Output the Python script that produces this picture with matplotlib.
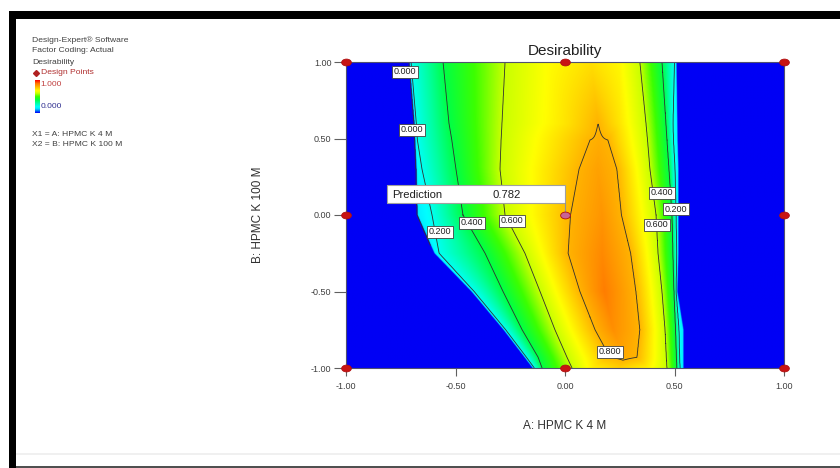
import numpy as np
import matplotlib
matplotlib.use("Agg")
import matplotlib.pyplot as plt
from matplotlib.colors import LinearSegmentedColormap
from matplotlib.path import Path
from matplotlib.transforms import Affine2D
from matplotlib.patches import Rectangle
from matplotlib.lines import Line2D

plt.rcParams["font.family"] = ["Liberation Sans", "DejaVu Sans"]

# ---- data -------------------------------------------------------------
# Desirability surface, described row by row: for each level of factor B,
# the A positions of the knots, in this order:
# left edge, L0.2, L0.4, L0.6, A, peak, B, R0.6, R0.4, R0.2, right edge
row_b = [1.0, 0.6, 0.49, 0.3, 0.0, -0.25, -0.5, -0.75, -0.93, -1.0]
knot_a = [
    [-0.708, -0.703, -0.557, -0.274, -0.080, 0.120, 0.250, 0.342, 0.443, 0.500, 0.507],
    [-0.685, -0.679, -0.530, -0.288, 0.000, 0.151, 0.250, 0.370, 0.461, 0.493, 0.511],
    [-0.682, -0.674, -0.517, -0.292, 0.114, 0.155, 0.196, 0.377, 0.466, 0.495, 0.512],
    [-0.676, -0.653, -0.498, -0.297, 0.064, 0.150, 0.237, 0.388, 0.475, 0.502, 0.516],
    [-0.671, -0.607, -0.466, -0.274, 0.025, 0.170, 0.258, 0.416, 0.489, 0.507, 0.516],
    [-0.594, -0.575, -0.365, -0.183, 0.014, 0.170, 0.300, 0.425, 0.493, 0.510, 0.516],
    [-0.425, -0.415, -0.283, -0.114, 0.068, 0.180, 0.324, 0.443, 0.498, 0.507, 0.511],
    [-0.279, -0.271, -0.196, -0.046, 0.137, 0.220, 0.342, 0.457, 0.505, 0.520, 0.539],
    [-0.183, -0.176, -0.123, 0.009, 0.205, 0.270, 0.329, 0.463, 0.509, 0.523, 0.539],
    [-0.146, -0.140, -0.105, 0.032, 0.120, 0.250, 0.380, 0.466, 0.511, 0.525, 0.539],
]
edge_left_d = [0.19, 0.19, 0.19, 0.17, 0.15, 0.16, 0.17, 0.17, 0.17, 0.17]
knot_a_d = [0.68, 0.72, 0.80, 0.80, 0.80, 0.80, 0.80, 0.80, 0.80, 0.70]
peak_d = [0.73, 0.80, 0.81, 0.83, 0.85, 0.87, 0.89, 0.86, 0.815, 0.76]
knot_b_d = [0.69, 0.72, 0.80, 0.80, 0.80, 0.80, 0.80, 0.80, 0.80, 0.70]
edge_right_d = [0.17, 0.17, 0.17, 0.17, 0.17, 0.17, 0.17, 0.15, 0.15, 0.15]

contour_levels = [0.2, 0.4, 0.6, 0.8]
edge_level = 0.0003
design_a = [-1, 0, 1, -1, 0, 1, -1, 0, 1]
design_b = [-1, -1, -1, 0, 0, 0, 1, 1, 1]
prediction_value = 0.782
ticks = [-1.0, -0.5, 0.0, 0.5, 1.0]
tick_labels = ["-1.00", "-0.50", "0.00", "0.50", "1.00"]

# ---- build the surface on a fine grid ----------------------------------
knot_d = [[el, 0.2, 0.4, 0.6, ka, pk, kb, 0.6, 0.4, 0.2, er]
          for el, ka, pk, kb, er in zip(edge_left_d, knot_a_d, peak_d,
                                        knot_b_d, edge_right_d)]
rb = np.array(row_b)[::-1]
KA = np.array(knot_a)[::-1]
KD = np.array(knot_d)[::-1]
xa = np.linspace(-1, 1, 1001)
yb = np.linspace(-1, 1, 601)
D = np.empty((yb.size, xa.size))
for i, b in enumerate(yb):
    xk = np.array([np.interp(b, rb, KA[:, k]) for k in range(KA.shape[1])])
    vk = np.array([np.interp(b, rb, KD[:, k]) for k in range(KD.shape[1])])
    xs = np.concatenate([[-1.0, xk[0] - 0.004], xk, [xk[-1] + 0.004, 1.0]])
    vs = np.concatenate([[0.0, 0.0], vk, [0.0, 0.0]])
    D[i] = np.interp(xa, xs, vs)

cmap = LinearSegmentedColormap.from_list("desirability", [
    (0.00, "#0000f5"), (0.12, "#00e0ff"), (0.18, "#00ffff"), (0.30, "#00ffa0"),
    (0.40, "#00ff46"), (0.50, "#3cff00"), (0.60, "#c8ff00"), (0.68, "#ffff00"),
    (0.80, "#ffb400"), (0.90, "#ff7800"), (1.00, "#ff0000")])

# ---- figure -------------------------------------------------------------
W, H = 840, 468
fig = plt.figure(figsize=(W / 100, H / 100), dpi=100)
fig.patch.set_facecolor("white")


def fx(px):
    return px / W


def fy(py):
    return 1 - py / H


ax = fig.add_axes([fx(346), fy(368), fx(784) - fx(346), fy(62) - fy(368)])
ax.imshow(D, extent=[-1, 1, -1, 1], origin="lower", cmap=cmap, vmin=0, vmax=1,
          aspect="auto", interpolation="bilinear", zorder=1)
X, Y = np.meshgrid(xa, yb)
ax.contour(X, Y, D, levels=contour_levels, colors="#303030", linewidths=0.6,
           zorder=2)
# zero-desirability boundary, upper left part
sel_x = xa < 0
sel_y = yb > -0.2
ax.contour(xa[sel_x], yb[sel_y], D[np.ix_(sel_y, sel_x)], levels=[edge_level],
           colors="#303030", linewidths=0.6, zorder=2)
ax.set_xlim(-1, 1)
ax.set_ylim(-1, 1)

# contour labels
label_spots = {
    edge_level: [(-0.731, 0.935), (-0.699, 0.556)],
    0.2: [(-0.571, -0.111), (0.507, 0.039)],
    0.4: [(-0.425, -0.052), (0.443, 0.144)],
    0.6: [(-0.242, -0.039), (0.420, -0.065)],
    0.8: [(0.205, -0.895)],
}
for lev, spots in label_spots.items():
    for (a, b) in spots:
        ax.text(a, b, "%.3f" % lev, fontsize=6.5, color="#202020",
                ha="center", va="center", zorder=6,
                bbox=dict(boxstyle="square,pad=0.2", fc="white",
                          ec="#404040", lw=0.6))

# prediction flag
ax.add_patch(Rectangle((-0.813, 0.078), 0.813, 0.118, fc="white",
                       ec="#a0a0a0", lw=0.8, zorder=7))
ax.plot([0, 0], [0.078, 0.012], color="#909090", lw=0.8, zorder=7)
ax.text(-0.79, 0.111, "Prediction", fontsize=8.1, color="#202020",
        va="baseline", ha="left", zorder=8)
ax.text(-0.265, 0.111, "%.3f" % prediction_value, fontsize=8.1,
        color="#202020", va="baseline", ha="center", zorder=8)

# design points
ell = Path.unit_circle().transformed(Affine2D().scale(1.0, 0.7))
for a, b in zip(design_a, design_b):
    centre = (a == 0 and b == 0)
    ax.plot([a], [b], marker=ell, markersize=7, linestyle="none",
            markerfacecolor="#c86496" if centre else "#c81414",
            markeredgecolor="#b01010", markeredgewidth=0.6,
            clip_on=False, zorder=9)

# axes styling
for s in ax.spines.values():
    s.set_color("#505070")
    s.set_linewidth(0.8)
ax.set_xticks(ticks)
ax.set_xticklabels(tick_labels)
ax.set_yticks(ticks)
ax.set_yticklabels(tick_labels)
ax.tick_params(axis="x", direction="out", length=5.8, width=0.8,
               color="#606060", labelsize=6.5, labelcolor="#404040", pad=4)
ax.tick_params(axis="y", direction="out", length=8.5, width=0.8,
               color="#606060", labelsize=6.5, labelcolor="#404040", pad=2)
for t, v in zip(ax.xaxis.get_major_ticks(), ticks):
    if v in (-1.0, 0.0, 1.0):
        t.tick1line.set_color("#c81414")

fig.text(fx(565), fy(55.5), "Desirability", fontsize=11, color="#202020",
         ha="center", va="baseline")
fig.text(fx(565), fy(426), "A: HPMC K 4 M", fontsize=8.5, color="#303030",
         ha="center", va="center")
fig.text(fx(258), fy(215), "B: HPMC K 100 M", fontsize=8.5, color="#303030",
         ha="center", va="center", rotation=90)

# legend block, top left
info = dict(fontsize=6.1, color="#404040", ha="left", va="center")
fig.text(fx(32), fy(40), "Design-Expert\u00ae Software", **info)
fig.text(fx(32), fy(51), "Factor Coding: Actual", **info)
fig.text(fx(32), fy(62), "Desirability", **info)
fig.add_artist(Line2D([fx(36)], [fy(73)], marker="D", markersize=3,
                      color="#b02020", transform=fig.transFigure))
fig.text(fx(41), fy(73), "Design Points", fontsize=6.1, color="#b03030",
         ha="left", va="center")
cax = fig.add_axes([fx(34.5), fy(113), fx(5), fy(80) - fy(113)])
cax.imshow(np.linspace(0, 1, 100)[:, None], origin="lower", cmap=cmap,
           aspect="auto", extent=[0, 1, 0, 1])
cax.set_axis_off()
fig.text(fx(40.5), fy(85), "1.000", fontsize=6.1, color="#c04040",
         ha="left", va="center")
fig.text(fx(40.5), fy(106), "0.000", fontsize=6.1, color="#303090",
         ha="left", va="center")
fig.text(fx(32), fy(134), "X1 = A: HPMC K 4 M", **info)
fig.text(fx(32), fy(145), "X2 = B: HPMC K 100 M", **info)

# window frame
fig.add_artist(Rectangle((fx(9), fy(19)), 1 - fx(9), fy(11) - fy(19),
                         transform=fig.transFigure, fc="black", ec="none"))
fig.add_artist(Rectangle((fx(9), 0), fx(16) - fx(9), fy(11),
                         transform=fig.transFigure, fc="black", ec="none"))
fig.add_artist(Rectangle((fx(16), fy(455)), 1 - fx(16), fy(453) - fy(455),
                         transform=fig.transFigure, fc="#f0f0f0", ec="none"))
fig.add_artist(Rectangle((fx(16), 0), 1 - fx(16), fy(466),
                         transform=fig.transFigure, fc="#505050", ec="none"))

fig.savefig("out.png", dpi=100)
